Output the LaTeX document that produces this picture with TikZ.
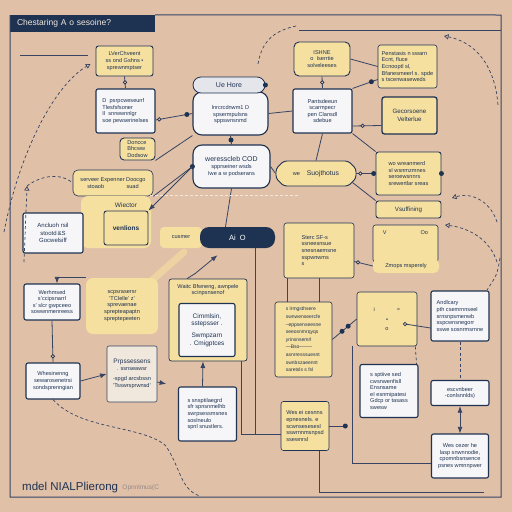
\documentclass[tikz,border=0pt]{standalone}
\usepackage{fontspec}
\setmainfont{Liberation Sans}
\usetikzlibrary{
  arrows.meta,
  positioning,
  shapes.misc,
  calc
}
\definecolor{bgtan}{RGB}{224,192,167}
\definecolor{navy}{RGB}{30,50,82}
\definecolor{paleyel}{RGB}{246,224,160}
\definecolor{boxwhite}{RGB}{246,246,248}
\definecolor{cream}{RGB}{240,232,220}
\definecolor{linec}{RGB}{55,68,100}
\definecolor{fogray}{RGB}{228,230,236}
\newcommand{\smallfs}{\fontsize{5.6}{6.6}\selectfont}

\begin{document}
\begin{tikzpicture}[x=1pt, y=-1pt,
  every node/.style={font=\smallfs, text=navy},
  wbox/.style={draw=navy, line width=1.1pt, fill=boxwhite, rounded corners=2pt, align=center, inner sep=1pt},
  ybox/.style={draw=navy, line width=0.9pt, fill=paleyel, rounded corners=2.5pt, align=center, inner sep=1pt},
  soft/.style={fill=paleyel, rounded corners=7pt, align=center, inner sep=1pt},
  cloudy/.style={wbox, rounded corners=9pt},
  wire/.style={draw=linec, line width=0.8pt},
  dashwire/.style={draw=linec, line width=0.7pt, dash pattern=on 3pt off 2.5pt},
  blobdot/.style={circle, fill=navy, inner sep=0pt, minimum size=5pt},
  ring/.style={circle, draw=navy, fill=bgtan, line width=0.7pt, inner sep=0pt, minimum size=3.5pt}
]
  \useasboundingbox[fill=bgtan] (0,0) rectangle (512,512);

  % Title and frame
  \node[fill=navy, text=cream, font=\fontsize{8.5}{9}\selectfont, minimum width=145, minimum height=17, text width=131, align=left, inner sep=0pt] (title) at (82.5,23.5) {Chestaring A o sesoine?};
  \draw[wire, line width=1pt] (title.north east) -- (501,15) -- (501,497) -- (10,497) -- (10,15);
  \draw[wire] (299,30) -- (501,30);
  \draw[wire] (20,55) -- (88,55);

  % Upper left column
  \node[ybox, minimum width=57, minimum height=30] (chveent) at (124.5,61) {LVerChveent\\ ss ond Gshns \textbullet\\ sprewnmptser};
  \node[wbox, minimum width=59, minimum height=44, align=left] (pewser) at (125.5,111) {D\; psrpcweseunf\\ Tlesfsfsoner\\ Il\; snrwwnnlgr\\ soe pewserinelses};
  \node[ybox, minimum width=35, minimum height=22, align=left, rounded corners=4pt] (doncce) at (137.5,149) {Doncce\\ Bhcww\\ Dodsow};
  \node[ybox, minimum width=80, minimum height=26, line width=0.6pt, rounded corners=5pt] (expenner) at (113,183) {serveer Expenner Doocgo\\ stoaob\qquad\qquad suad};

  % Clouds in the middle
  \node[cloudy, minimum width=75, minimum height=43] (lnrcr) at (230.5,113.5) {\\ lnrcrcdnwm1 D\\ spsermpulsns\\ sppswnsnmd};
  \node[draw=navy, line width=0.8pt, fill=fogray, rounded corners=8pt, minimum width=72, minimum height=16, font=\fontsize{7}{8}\selectfont] (uehore) at (229,85) {Ue Hore};
  \node[blobdot] (uehoredot) at (uehore.east) {};
  \node[cloudy, minimum width=77, minimum height=43] (werecod) at (231.5,166.5) {{\fontsize{7}{8}\selectfont weresscleb COD}\\ spprseiner wsds\\ Iwe a w podserans};

  % Upper right
  \node[ybox, minimum width=56, minimum height=34, rounded corners=5pt] (ishne) at (322,59) {ISHNE\\ o\; Iserrtie\\ solveleeses};
  \node[ybox, minimum width=59, minimum height=43, align=left, line width=0.6pt] (penstasis) at (407.5,66.5) {Penstasis n swarn\\ Ecnt, fluce\\ Ecnooptl sl,\\ Bfanesmeerl s. spde\\ s tscenwaseweds};
  \node[wbox, minimum width=59, minimum height=44] (pantsd) at (322.5,111) {Pantsdeeun\\ scarmpecr\\ pen Clansdl\\ sdebue};
  \node[ybox, minimum width=55, minimum height=37, line width=1.3pt, font=\fontsize{6.2}{7.4}\selectfont] (gecor) at (409.5,115.5) {Gecorsoene\\ Velterlue};
  \node[ybox, chamfered rectangle, chamfered rectangle xsep=9pt, rounded corners=3pt, minimum width=80, minimum height=25, font=\fontsize{6.8}{7.5}\selectfont] (suojt) at (316,173.5) {{\smallfs we}\quad Suojthotus};
  \node[ybox, minimum width=65, minimum height=43, align=left] (wreanm) at (408.5,173.5) {wo wreanmerd\\ sI wsnmzmnes\\ seroewsnnrs\\ srewertlar sreas};
  \node[blobdot] (wreanmdot) at (wreanm.east) {};
  \node[ybox, minimum width=65, minimum height=17, font=\fontsize{6.2}{7}\selectfont] (vsuff) at (408.5,209.5) {Vsuffining};

  % Middle band
  \node[soft, minimum width=70, minimum height=52] (wiector) at (116,222) {};
  \node[font=\fontsize{6.5}{7.5}\selectfont] (wiectortxt) at (126,205) {Wiector};
  \node[ybox, minimum width=44, minimum height=34, font=\bfseries\fontsize{6.5}{7.5}\selectfont] (venlions) at (126,228) {venlions};
  \node[wbox, minimum width=60, minimum height=40, font=\fontsize{6}{7.2}\selectfont] (ancluoh) at (53,233) {Ancluoh rsil\\ stootd\,\&S\\ Gocwelsiff};
  \node[fill=paleyel, rounded corners=4pt, minimum width=42, minimum height=21, inner sep=0pt] (cusmer) at (181,237.5) {cusmer};
  \node[fill=navy, text=white, rounded corners=9pt, minimum width=75, minimum height=21, font=\fontsize{7.5}{8}\selectfont, inner sep=0pt] (aio) at (237.5,237.5) {Ai\; O};
  \node[ybox, minimum width=70, minimum height=55, align=left, line width=0.6pt] (sterc) at (319,250.5) {Sterc SF-s\\ ssneesnsue\\ snesnaemsne\\ sspwnwms\\ s};
  \node[ybox, minimum width=65, minimum height=37, line width=0.6pt, align=left] (oobox) at (405.5,243.5) {V\hspace{34pt}Oo\\[16pt]};
  \node[soft, rounded corners=5pt, minimum width=66, minimum height=14] (zmops) at (406,266) {Zmops msperely};

  % Lower left
  \node[soft, minimum width=72, minimum height=56] (scpsra) at (122,306) {scpsrasersr\\ 'TCIelle' z'\\ sprevaenae\\ sprepteapaptn\\ spreptepeeten};
  \node[ybox, minimum width=78, minimum height=82, line width=0.7pt] (waitc) at (208,320) {};
  \node[below=2pt of waitc.north, align=center] (waitctxt) {Waitc Bfwneng, awnpele\\ scinpsnsenof};
  \node[wbox, minimum width=56, minimum height=53, font=\fontsize{6.5}{7.6}\selectfont] (cimml) at (207,330) {Cimmlsin,\\ sstepsser .\\[4pt] Swmpzarn\\ . Cmigptces};
  \node[wbox, minimum width=56, minimum height=36] (werhm) at (52,302) {Werhmsed\\ s'ccipsnarrl\\ s' slcr gwpceeo\\ sowwnmenreess};
  \node[wbox, draw=linec, line width=0.6pt, fill=cream, minimum width=50, minimum height=56] (prpss) at (132,374) {{\fontsize{6.5}{7.5}\selectfont Prpssessens}\\ . ssnseawsr\\[4pt] -spgd arcsbssn\\ 'Tsswrsprwnsd'};
  \node[wbox, minimum width=54, minimum height=36] (whesin) at (53,381) {Whesinenng\\ sewarosenetrsi\\ sondsprenngian};
  \node[wbox, minimum width=58, minimum height=54, align=left] (ssns) at (207.5,414) {s snsptilaegrd\\ sfr spnsnmelhb\\ swrpsessmsnes\\ soslneulo\\ spnl snustlers.};

  % Lower right
  \node[ybox, minimum width=57, minimum height=75, align=left, line width=0.6pt, font=\fontsize{5}{7.6}\selectfont] (lrmg) at (303.5,339.5) {s lrmgsthsere\\ swnwenseercfe\\ --eppsenseesne\\ seeosnmrqyqs\\ yrinsnsemrl\\ ---Bso--------\\ asnrresssuesnt\\ swnbszaeennt\\ saretsls s fsl};
  \node[ybox, minimum width=60, minimum height=54, line width=0.6pt] (dotsbox) at (387,319) {i\hspace{22pt}=\\[3pt] \textbullet\ \ \\[3pt] o};
  \node[wbox, minimum width=58, minimum height=50, align=left] (andlc) at (460,316) {Andlcary\\ pth csemrnnseel\\ srnsnpsmenwb\\ sspcwnsnegorr\\ sswe sosnrmsrnne};
  \node[wbox, minimum width=58, minimum height=53, align=left] (ensn) at (389,391) {s sptiive sed\\ cwsnwenfisll\\ Ensnsame\\ eI esnmipatesi\\ Gdcp or tasass\\ swesw};
  \node[wbox, minimum width=58, minimum height=25] (escv) at (460,393) {escvnbeer\\ -conlsnnlds)};
  \node[ybox, minimum width=48, minimum height=49, align=left, line width=0.6pt] (wesei) at (305,426) {Wes ei cesnns\\ epnesnels. e\\ scwnsesesesl\\ sswrnnmsnpsd\\ ssewnrsl};
  \node[wbox, minimum width=57, minimum height=44] (wescez) at (460,456) {Wes cezer he\\ lasp snwnnodie,\\ cpomnbsnsence\\ psnes wmnnpwer};

  % Footer
  \node[anchor=west, font=\fontsize{11.5}{12}\selectfont, inner sep=0pt] (footer) at (22,488) {mdel NIALPlierong};
  \node[right=4pt of footer, text=linec!45!bgtan, font=\fontsize{6.5}{7}\selectfont, inner sep=0pt] (footnote) {Opnnlmus(C};

  % Connectors
  \draw[wire] (chveent.south) -- node[ring] (r1) {} (pewser.north);
  \draw[wire] ([yshift=-9pt]pewser.east) -- node[ring, pos=0.1] (r2) {} node[blobdot, pos=0.85] (d2) {} (lnrcr.west);
  \draw[wire] (lnrcr.east) -- (pantsd.west);
  \draw[wire] (ishne.east) -- (penstasis.west);
  \draw[wire] (ishne.south) -- node[ring] (r3) {} (pantsd.north);
  \draw[wire] (pantsd.north east) -- node[blobdot, pos=0.75] (d3) {} ([yshift=-13pt]penstasis.west);
  \draw[wire] ([yshift=-15pt]pantsd.east) -- node[ring, pos=0.35] (r4) {} ([yshift=-10pt]gecor.west);
  \draw[wire] (lnrcr.south) -- node[blobdot] (d4) {} (werecod.north);
  \draw[wire] (pantsd.south) -- (suojt.north);
  \draw[wire] (pantsd.south east) -- (wreanm.north west);
  \draw[wire] (werecod.east) -- (suojt.west);
  \draw[wire] (suojt.east) -- node[ring, pos=0.2] (r5) {} node[blobdot, pos=0.9] (d5) {} (wreanm.west);
  \draw[wire] (suojt.south east) -- (vsuff.north west);
  \draw[wire] (doncce.south east) -- (lnrcr.south west);
  \draw[wire] (expenner.south east) -- node[blobdot, pos=1] (d6) {} (werecod.west);
  \draw[wire, -Latex] (werecod.west) -- (venlions.north east);
  \draw[wire] (werecod.south) -- ([xshift=-12pt]aio.north);
  \draw[draw=white!60!bgtan, line width=0.6pt, dash pattern=on 3pt off 2pt] (150,195) -- (300,195);
  \draw[paleyel, line width=7pt, opacity=0.6, line cap=round] (150,282) -- (184,252);
  \draw[wire] ([xshift=-20pt]aio.south east) |- ([yshift=-8pt]wesei.west);
  \draw[wire] ([xshift=-6pt]waitc.south east) |- ([yshift=-8pt]wesei.west);
  \draw[wire, -Latex] ([xshift=-21pt]waitc.north) -- ++(8,-5) -- ([xshift=-20pt, yshift=-7pt]aio.south);
  \draw[wire] (sterc.south) -- ([xshift=15.5pt]lrmg.north);
  \draw[wire] ([xshift=-32pt]sterc.south) -- ++(0,24);
  \draw[wire] ([yshift=-11pt]sterc.east) -- node[ring, pos=0.2] (r6) {} (zmops.west);
  \draw[wire] (lrmg.east) -- node[blobdot, pos=0.4] (d7) {} node[blobdot, pos=0.65] (d8) {} (dotsbox.west);
  \draw[wire] ([xshift=18pt, yshift=-5pt]dotsbox.center) node[ring] (r7) {} -- ([yshift=-12pt]andlc.west);
  \draw[dashwire] (andlc.south) -- (escv.north);
  \draw[dashwire] ([xshift=-2pt]dotsbox.south east) -- ([xshift=-2pt]ensn.north east);
  \draw[wire, Latex-Latex] (escv.south) -- (wescez.north);
  \draw[wire] ([xshift=-4pt]dotsbox.south west) |- ([yshift=-7pt]wescez.west);
  \coordinate (weseiend) at ($(wesei.east)+(16,0)$);
  \draw[wire] (wesei.east) -- (weseiend);
  \node[blobdot] (weseidot) at (weseiend) {};
  \coordinate (btmend) at (484,492);
  \draw[wire] ([xshift=14pt]wesei.south) |- (btmend);
  \draw[wire, Latex-] ([xshift=5pt]werhm.north) |- (scpsra.north west);
  \draw[wire] (werhm.south) -- node[ring, pos=0.85] (r8) {} (whesin.north);
  \draw[wire, -Latex] (whesin.east) -- (prpss.west);
  \draw[wire, -Latex, shorten >=12pt] ([yshift=-8pt]prpss.east) -- (ssns.north west);
  \draw[wire, -Latex] ([xshift=-5pt]ssns.north) -- ([xshift=-5pt]waitc.south);

  % Dashed loops
  \draw[dashwire, -{Triangle[open]}, shorten >=6pt] (4,232) .. controls (20,150) and (55,85) .. (chveent.west);
  \coordinate (leftup) at (27,186);
  \draw[dashwire, -{Triangle[open]}] (24,262) -- (leftup);
  \draw[dashwire] (leftup) .. controls (40,176) and (60,172) .. (expenner.west);
  \draw[dashwire] (258,64) .. controls (262,38) and (278,30) .. (296,26);
  \draw[dashwire, {Triangle[open]}-] (444,36) .. controls (475,42) and (495,65) .. (498,105);
  \draw[dashwire, -{Triangle[open]}] (497,222) .. controls (490,200) and (470,192) .. (452,198);
  \draw[dashwire, -{Triangle[open]}] (497,262) .. controls (490,240) and (470,228) .. (445,225);
  \draw[dashwire] (500,258) .. controls (497,275) .. (487,290);
  \draw[dashwire] (whesin.south) .. controls (80,430) and (140,425) .. (165,445) .. controls (180,465) and (180,490) .. (200,496);
\end{tikzpicture}
\end{document}
